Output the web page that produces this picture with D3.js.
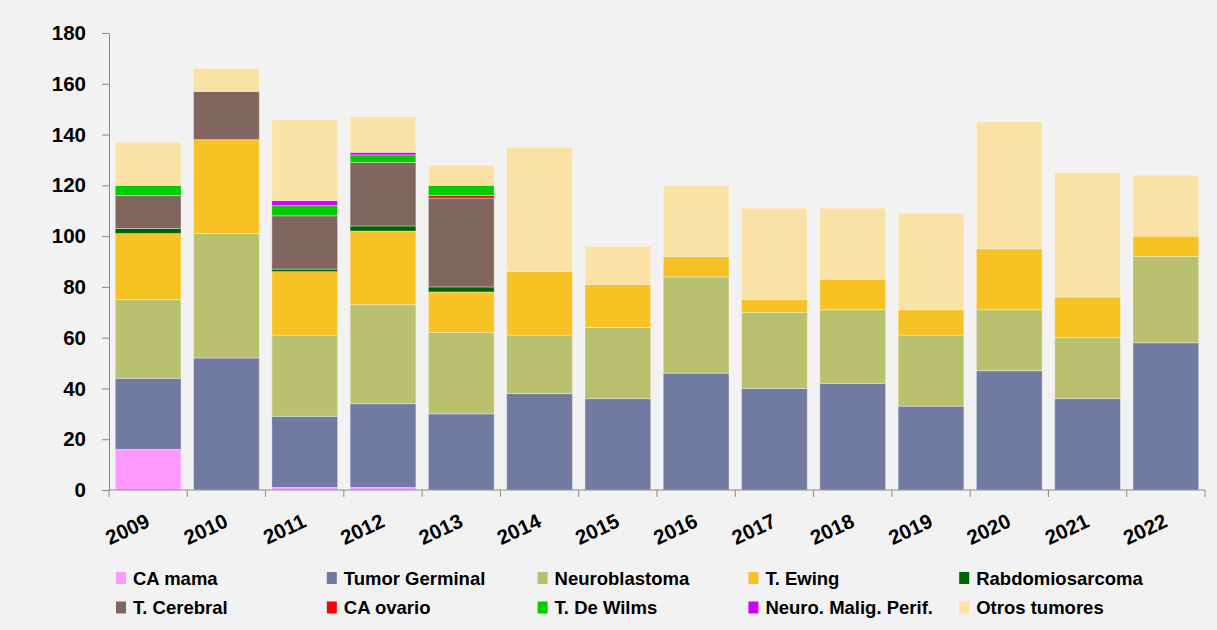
<!DOCTYPE html>
<html>
<head>
<meta charset="utf-8">
<script src="https://cdn.jsdelivr.net/npm/d3@7"></script>
<style>
  body { margin: 0; background: #f2f2f2; }
  svg { display: block; font-family: "Liberation Sans", Arial, sans-serif; font-weight: bold; }
</style>
</head>
<body>
<div id="chart"></div>
<script>
// data
var years = ["2009","2010","2011","2012","2013","2014","2015","2016","2017","2018","2019","2020","2021","2022"];

var caMama         = [16, 0, 1, 1, 0, 0, 0, 0, 0, 0, 0, 0, 0, 0];
var tumorGerminal  = [28, 52, 28, 33, 30, 38, 36, 46, 40, 42, 33, 47, 36, 58];
var neuroblastoma  = [31, 49, 32, 39, 32, 23, 28, 38, 30, 29, 28, 24, 24, 34];
var tEwing         = [26, 37, 25, 29, 16, 25, 17, 8, 5, 12, 10, 24, 16, 8];
var rabdo          = [2, 0, 1, 2, 2, 0, 0, 0, 0, 0, 0, 0, 0, 0];
var tCerebral      = [13, 19, 21, 25, 35, 0, 0, 0, 0, 0, 0, 0, 0, 0];
var caOvario       = [0, 0, 0, 0, 1, 0, 0, 0, 0, 0, 0, 0, 0, 0];
var tWilms         = [4, 0, 4, 3, 4, 0, 0, 0, 0, 0, 0, 0, 0, 0];
var neuroMalig     = [0, 0, 2, 1, 0, 0, 0, 0, 0, 0, 0, 0, 0, 0];
var otros          = [17, 9, 32, 14, 8, 49, 15, 28, 36, 28, 38, 50, 49, 24];

var seriesNames = ["CA mama", "Tumor Germinal", "Neuroblastoma", "T. Ewing", "Rabdomiosarcoma",
                   "T. Cerebral", "CA ovario", "T. De Wilms", "Neuro. Malig. Perif.", "Otros tumores"];
var seriesValues = [caMama, tumorGerminal, neuroblastoma, tEwing, rabdo,
                    tCerebral, caOvario, tWilms, neuroMalig, otros];
var palate = ["#ff99ff", "#717ba1", "#b9c16e", "#f7c223", "#006400",
              "#80665e", "#ff0000", "#00cc00", "#cc00ff", "#fae2a6"];
var yTicks = [0, 20, 40, 60, 80, 100, 120, 140, 160, 180];

var W = 1217, H = 630;
var margin = {left: 109, right: 12, top: 33, bottom: 140};
var width = W - margin.left - margin.right,
    height = H - margin.top - margin.bottom;

var svg = d3.select("#chart").append("svg")
    .attr("width", W)
    .attr("height", H);

svg.append("rect").attr("width", W).attr("height", H).attr("fill", "#f2f2f2");

var canvas = svg.append("g")
    .attr("transform", "translate(" + margin.left + "," + margin.top + ")");

// build table for the stack
var table = years.map(function(yr, i){
    var row = {year: yr};
    seriesNames.forEach(function(s, j){ row[s] = seriesValues[j][i]; });
    return row;
});

var stacked = d3.stack().keys(seriesNames)(table);

var x = d3.scaleBand()
    .domain(years)
    .range([0, width])
    .paddingInner(0.16)
    .paddingOuter(0.08);

var y = d3.scaleLinear()
    .domain([0, 180])
    .range([height, 0]);

var color = d3.scaleOrdinal().domain(seriesNames).range(palate);

// bars
canvas.selectAll("g.layer")
    .data(stacked)
    .enter().append("g")
        .attr("class", "layer")
        .attr("fill", function(d){ return color(d.key); })
    .selectAll("rect")
    .data(function(d){ return d.filter(function(p){ return p[1] - p[0] > 0; }); })
    .enter().append("rect")
        .attr("x", function(d){ return x(d.data.year); })
        .attr("y", function(d){ return y(d[1]); })
        .attr("width", x.bandwidth())
        .attr("height", function(d){ return y(d[0]) - y(d[1]); })
        .attr("stroke", "rgba(255,255,255,0.35)")
        .attr("stroke-width", 1);

// y axis
var yAxisCall = d3.axisLeft(y).tickValues(yTicks).tickSize(7).tickPadding(16);
var yAxis = canvas.append("g").attr("class", "y-axis").call(yAxisCall);
yAxis.select(".domain").attr("stroke", "#898989");
yAxis.selectAll(".tick line").attr("stroke", "#898989");
yAxis.selectAll("text")
    .attr("font-size", "20.5px")
    .attr("font-family", "'Liberation Sans', Arial, sans-serif")
    .attr("font-weight", "bold")
    .attr("fill", "#000");

// x axis: ticks at band edges
var xAxisG = canvas.append("g")
    .attr("class", "x-axis")
    .attr("transform", "translate(0," + height + ")");
xAxisG.append("line")
    .attr("x1", 0).attr("x2", width)
    .attr("stroke", "#898989");
var edges = d3.range(years.length + 1).map(function(i){ return i * width / years.length; });
xAxisG.selectAll("line.tk")
    .data(edges)
    .enter().append("line")
        .attr("class", "tk")
        .attr("x1", function(d){ return d; })
        .attr("x2", function(d){ return d; })
        .attr("y1", 0).attr("y2", 7)
        .attr("stroke", "#898989");

xAxisG.selectAll("text")
    .data(years)
    .enter().append("text")
        .attr("text-anchor", "end")
        .attr("font-size", "20.5px")
        .attr("transform", function(d){
            var cx = x(d) + x.bandwidth() / 2 + 3;
            return "translate(" + cx + ",36) rotate(-25)";
        })
        .text(function(d){ return d; });

// legend
var legend = svg.append("g")
    .attr("transform", "translate(116,578)");

seriesNames.forEach(function(name, i){
    var col = i % 5, row = Math.floor(i / 5);
    var legendRow = legend.append("g")
        .attr("transform", "translate(" + (col * 210.8) + "," + (row * 29.5) + ")");
    legendRow.append("rect")
        .attr("x", 0)
        .attr("y", -6)
        .attr("width", 10)
        .attr("height", 12)
        .attr("fill", color(name));
    legendRow.append("text")
        .attr("x", 17)
        .attr("y", 6.5)
        .attr("font-size", "18.5px")
        .attr("fill", "#000")
        .text(name);
});
</script>
</body>
</html>
